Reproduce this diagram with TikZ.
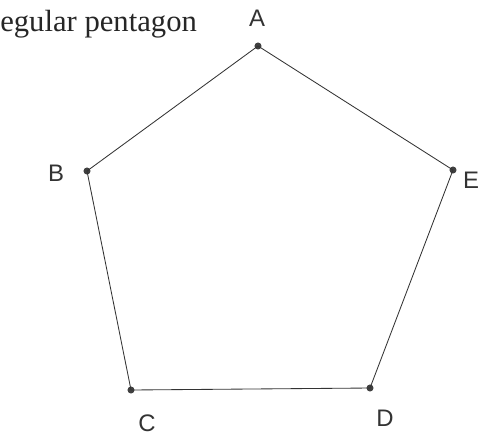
\documentclass[tikz,border=0pt]{standalone}
\usepackage{fontspec}
\setmainfont{Liberation Serif}
\newfontfamily\handfont{Liberation Sans}
\usetikzlibrary{positioning}

\begin{document}
\begin{tikzpicture}[x=0.025cm, y=-0.025cm,
  side/.style={draw=black!80, line width=0.6pt},
  vdot/.style={circle, fill=black!75, inner sep=0pt, minimum size=5pt},
  vlab/.style={font=\handfont\fontsize{17}{17}\selectfont, text=black!80}]
\useasboundingbox (0,0) rectangle (485,435);
% title, cut at the left edge
\node[anchor=base west, inner sep=0pt, font=\fontsize{21.8}{22}\selectfont, text=black!85]
  (title) at (0,31) {egular pentagon};
% corners of the pentagon
\node[vdot] (A) at (258,46) {};
\node[vdot] (B) at (87,171) {};
\node[vdot] (C) at (131,390) {};
\node[vdot] (D) at (370,388) {};
\node[vdot] (E) at (453,170) {};
% sides
\draw[side] (A.center) -- (B.center) -- (C.center) -- (D.center) -- (E.center) -- (A.center);
% labels
\node[vlab] (la) at (257,18) {A};
\node[vlab] (lb) at (56,173) {B};
\node[vlab] (lc) at (147,423) {C};
\node[vlab] (ld) at (385,418) {D};
\node[vlab] (le) at (471,180) {E};
\end{tikzpicture}
\end{document}
